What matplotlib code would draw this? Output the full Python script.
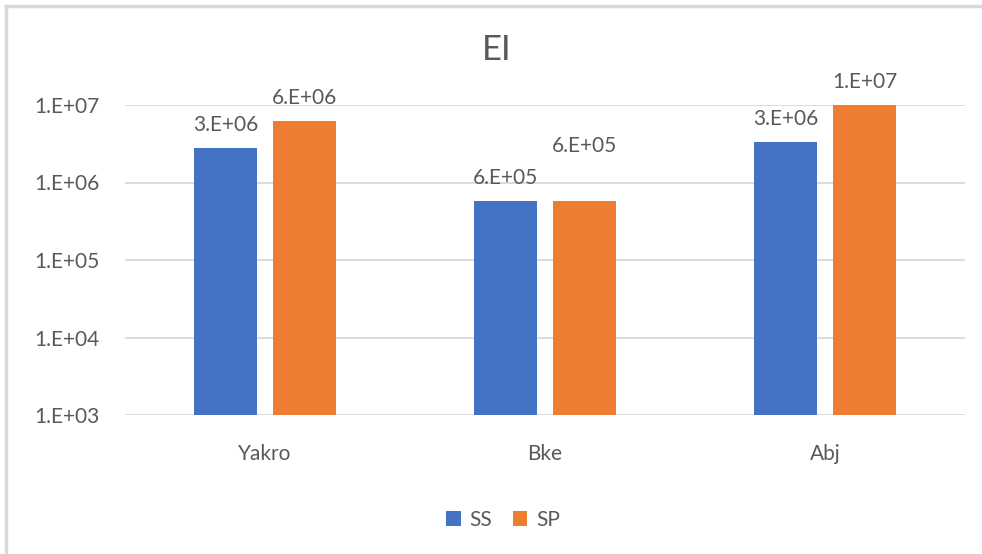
import matplotlib
matplotlib.use("Agg")
import matplotlib.pyplot as plt
import numpy as np
from matplotlib.lines import Line2D

categories = ["Yakro", "Bke", "Abj"]
series_names = ["SS", "SP"]
ss_values = [2.75e6, 5.85e5, 3.35e6]
sp_values = [6.2e6, 5.85e5, 9.9e6]
ytick_values = [1e3, 1e4, 1e5, 1e6, 1e7]
ytick_labels = ["1.E+03", "1.E+04", "1.E+05", "1.E+06", "1.E+07"]
title = "EI"

colors = ["#4472C4", "#ED7D31"]
text_color = "#595959"
grid_color = "#D9D9D9"

plt.rcParams['font.family'] = ['Lato', 'DejaVu Sans']

fig = plt.figure(figsize=(9.82, 5.54), dpi=100)
ax = fig.add_axes([125/982, 1-415/554, 840/982, 310/554])

x = np.arange(len(categories))
w = 0.225
off = 0.141
ax.bar(x - off, ss_values, w, color=colors[0], label=series_names[0], zorder=3)
ax.bar(x + off, sp_values, w, color=colors[1], label=series_names[1], zorder=3)

ax.set_yscale('log')
ax.set_ylim(1e3, 1e7)
ax.set_xlim(-0.5, len(categories) - 0.5)
ax.set_yticks(ytick_values)
ax.set_yticklabels(ytick_labels)
ax.yaxis.set_minor_locator(matplotlib.ticker.NullLocator())
ax.set_xticks(x)
ax.set_xticklabels(categories)
ax.tick_params(axis='both', length=0, labelsize=15, colors=text_color)
ax.tick_params(axis='y', pad=65)
ax.tick_params(axis='x', pad=21)
for lab in ax.get_yticklabels():
    lab.set_horizontalalignment('left')
ax.grid(axis='y', color=grid_color, linewidth=1.3, zorder=0)
for s in ax.spines.values():
    s.set_visible(False)

def fmt(v):
    s = f"{v:.0E}"
    return s[0] + "." + s[1:]

extra = {(1, 1): 32}
for si, vals in enumerate([ss_values, sp_values]):
    for ci, v in enumerate(vals):
        dy = 13 + extra.get((ci, si), 0)
        ax.annotate(fmt(v), (x[ci] + (-off if si == 0 else off), v),
                    xytext=(0, dy), textcoords='offset pixels',
                    ha='center', va='bottom', fontsize=15, color=text_color,
                    annotation_clip=False)

fig.text(497/982, 1-50/554, title, ha='center', va='center', fontsize=25,
         color=text_color)

leg = fig.legend(loc='center', bbox_to_anchor=(503/982, 1-520/554), ncol=2,
                 frameon=False, fontsize=15, handlelength=0.7, handleheight=0.7,
                 handletextpad=0.4, columnspacing=1.0)
for t in leg.get_texts():
    t.set_color(text_color)

bx, by = 6/982, 1 - 6/554
fig.lines.append(Line2D([bx, bx], [0, by], transform=fig.transFigure,
                        color=grid_color, linewidth=2.5))
fig.lines.append(Line2D([bx, 1], [by, by], transform=fig.transFigure,
                        color=grid_color, linewidth=2.5))

fig.savefig("out.png", dpi=100)
